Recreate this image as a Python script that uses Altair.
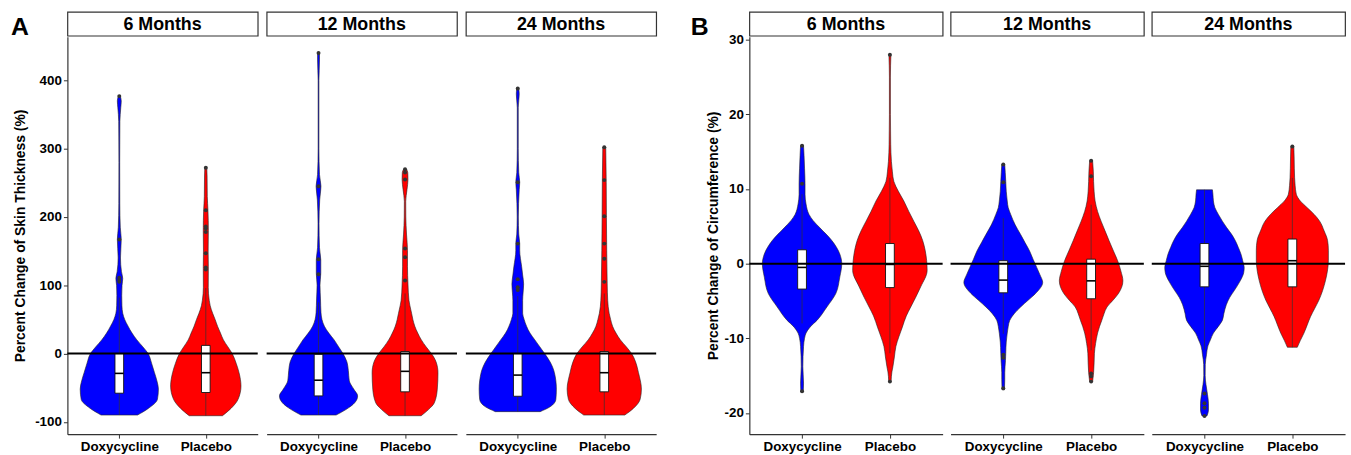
import altair as alt
import pandas as pd

FONT = "Liberation Sans"
MONTHS = ["6 Months", "12 Months", "24 Months"]
GROUPS = ["Doxycycline", "Placebo"]
COLORS = ["#0000FF", "#FF0000"]
ZERO_REF = 0

# ---------------- Panel A : skin thickness ----------------
A_LABEL = "A"
A_Y_TITLE = "Percent Change of Skin Thickness (%)"
A_Y_DOMAIN = [-118, 464]
A_Y_TICKS = [-100, 0, 100, 200, 300, 400]

# violin outline: value and density (relative half-width)
A6_DOXY_Y = [-90, -80, -67, -52, -40, -28, -14, 0, 10, 20, 30, 40, 50, 59, 70, 85, 100, 110, 120, 140, 167, 185, 220, 280, 340, 360, 370, 377]
A6_DOXY_D = [18.7, 30, 39, 40, 38.5, 36, 33, 29.5, 24, 18, 13, 9, 5.5, 3.5, 2.7, 2.5, 2.8, 3.5, 2.2, 1.2, 2, 1, 0.5, 0.4, 0.6, 1.5, 2, 1]
A6_DOXY_BOX = [-90, -58, -29, 0, 82]  # whisker low, q1, median, q3, whisker high
A6_DOXY_OUT = [105, 108, 111, 167, 377]

A6_PLAC_Y = [-91, -80, -67, -47.5, -28, -14, 0, 10, 20, 30, 40, 50, 59, 70, 78, 97, 127, 150, 180, 210, 230, 260, 272]
A6_PLAC_D = [17, 26, 33, 36, 34, 31, 27, 22.5, 18, 15, 12, 9.5, 7, 4.5, 3.5, 2.5, 2.6, 2.4, 2.6, 2.2, 1.5, 1.3, 1]
A6_PLAC_BOX = [-91, -57, -28, 12, 96]
A6_PLAC_OUT = [123, 126, 147, 178, 183, 186, 210, 272]

A12_DOXY_Y = [-90, -82, -72, -62, -52, -40, -25, -12, 0, 10, 20, 30, 40, 50, 60, 80, 100, 118, 137, 155, 190, 225, 245, 262, 300, 400, 430, 440]
A12_DOXY_D = [18, 28, 37, 40, 36, 31.5, 30.5, 29, 25, 20.5, 16, 10.5, 6, 3.5, 2.5, 2, 1.5, 2.3, 2.3, 1, 0.5, 1.2, 2.5, 1, 0.4, 0.4, 1, 1]
A12_DOXY_BOX = [-90, -62, -39, -1, 75]
A12_DOXY_OUT = [116, 138, 245, 440]

A12_PLAC_Y = [-91, -82, -72, -52, -28, -12, 0, 10, 20, 30, 40, 50, 59, 70, 78, 102, 127, 151, 175, 200, 223, 240, 255, 265, 270]
A12_PLAC_D = [16.5, 24, 30, 33, 33.7, 31.7, 27, 21.5, 16.7, 13, 10, 8, 6.7, 5, 4, 3, 2.5, 2.5, 1.5, 0.8, 0.7, 2, 3, 2.8, 1.5]
A12_PLAC_BOX = [-91, -56, -26, 3, 88]
A12_PLAC_OUT = [107, 141, 154, 255, 265, 270]

A24_DOXY_Y = [-85, -78, -67, -52, -28, -12, 0, 10, 20, 30, 40, 50, 59, 78, 90, 102, 115, 127, 151, 161, 175, 200, 240, 251, 265, 300, 360, 380, 388]
A24_DOXY_D = [23, 33, 39, 39.5, 37.5, 33, 27.5, 22.5, 17.5, 12.5, 9, 6.5, 5, 5, 5.5, 6, 5, 4, 2, 2, 1, 0.6, 1.5, 2, 1, 0.5, 0.5, 1.5, 1]
A24_DOXY_BOX = [-85, -62.5, -31.5, 0, 84]
A24_DOXY_OUT = [93, 97, 109, 161, 251, 388]

A24_PLAC_Y = [-90, -80, -67, -52, -28, -12, 0, 10, 20, 30, 40, 50, 59, 78, 102, 151, 200, 250, 302]
A24_PLAC_D = [21, 30, 36.7, 38, 35, 32, 28, 22.5, 16.5, 12, 8.5, 6.5, 5, 3.5, 3, 2.5, 2.2, 2, 1.5]
A24_PLAC_BOX = [-90, -56, -28, 3, 88]
A24_PLAC_OUT = [105, 139, 161, 201, 254, 302]

# ---------------- Panel B : circumference ----------------
B_LABEL = "B"
B_Y_TITLE = "Percent Change of Circumference (%)"
B_Y_DOMAIN = [-22.84, 30.41]
B_Y_TICKS = [-20, -10, 0, 10, 20, 30]

B6_DOXY_Y = [-17.2, -16, -13.8, -11.1, -10, -9.3, -8.5, -7.6, -5.8, -4, -1.8, 0, 1.3, 3.1, 4.8, 5.8, 6.6, 8, 9.3, 10.7, 12.8, 14.5, 15.8]
B6_DOXY_D = [1.2, 1.5, 0.8, 1.5, 2.5, 4, 8, 15, 25, 34, 38, 40, 38, 30, 18, 11, 7, 4, 3, 3, 2.5, 2, 1.5]
B6_DOXY_BOX = [-8.0, -3.4, -0.5, 1.86, 9.3]
B6_DOXY_OUT = [10.7, 15.8, -17.1]

B6_PLAC_Y = [-15.8, -14.5, -13.8, -12.5, -11.1, -9.8, -8.5, -7, -5.8, -4.5, -3.1, -0.9, 0.4, 1.8, 3.1, 4.4, 5.7, 7, 8.4, 9.7, 11, 12.3, 13.7, 16, 20, 25, 28]
B6_PLAC_D = [1.2, 2, 3, 4.5, 6, 9, 12.5, 16.5, 21, 26, 31, 37.5, 37, 35.5, 33, 29, 24, 19, 14, 8.5, 4, 2.5, 1.5, 0.8, 0.5, 0.5, 1]
B6_PLAC_BOX = [-12.0, -3.2, -0.1, 2.7, 11.5]
B6_PLAC_OUT = [28.0, -15.8]

B12_DOXY_Y = [-16.9, -15.5, -14.6, -13, -12, -10.5, -9.3, -8.4, -7.6, -6.7, -5.8, -4.9, -4, -2.5, -1.5, -0.5, 0.6, 1.7, 2.8, 3.9, 5.2, 6.6, 7.5, 8.4, 9.7, 11, 12.2, 13.3]
B12_DOXY_D = [1.2, 1.5, 1.5, 2.2, 2.5, 3, 4, 5, 6.5, 11, 17.5, 25, 32.5, 39.7, 37, 33.7, 30, 26.5, 22, 17.5, 12, 7.5, 5, 4, 3, 2.5, 2, 1.5]
B12_DOXY_BOX = [-9.4, -3.9, -2.2, 0.4, 6.1]
B12_DOXY_OUT = [13.3, 10.9, -12.2, -12.6, -16.7]

B12_PLAC_Y = [-15.8, -14.6, -13.3, -12, -10.7, -9.3, -8.4, -7.6, -6.7, -5.8, -4.9, -4, -2.3, -1, 0.4, 1.7, 3.1, 4.4, 5.7, 7, 8.4, 9.7, 11, 12.4, 13.8]
B12_PLAC_D = [1.5, 2.5, 3, 3.3, 4.5, 6.5, 8.5, 10.7, 13, 16, 22, 27.5, 32, 30, 26.7, 22.5, 18, 14, 10, 6.5, 4, 3, 2.5, 2.2, 1.5]
B12_PLAC_BOX = [-11.6, -4.7, -2.3, 0.6, 7.9]
B12_PLAC_OUT = [13.8, 11.7, -14.7, -15.1, -15.8]

B24_DOXY_Y = [-20.4, -19.6, -18.7, -17.5, -16.2, -15, -13.5, -12.2, -11, -10.2, -9.3, -8.4, -7.6, -6.7, -5.5, -4.5, -3.6, -2.3, -1.2, -0.5, 0.4, 1.3, 2.2, 3.1, 4, 4.8, 5.7, 6.6, 7.5, 8.4, 9.3, 9.9]
B24_DOXY_D = [2.5, 4, 4, 3, 1.5, 0.7, 0.8, 2, 3.5, 6, 9, 14, 18, 19.5, 22, 25.5, 30, 36, 39.5, 40, 38.5, 36.7, 34, 31, 27, 22.5, 18, 14, 10.5, 9, 8.5, 8]
B24_DOXY_BOX = [-11.5, -3.1, -0.35, 2.7, 9.9]
B24_DOXY_OUT = [-17.4, -18.7, -19.3, -20.4]

B24_PLAC_Y = [-11.2, -10.3, -9.3, -8.2, -7.1, -6, -4.9, -3.6, -2.3, -1, 0.4, 1.8, 3.1, 4.4, 5.7, 6.6, 7.5, 8.4, 9.3, 10.5, 11.5, 12.8, 14.3, 15.7]
B24_PLAC_D = [5, 8, 11.7, 15, 18.3, 22.5, 26.7, 30.5, 33.3, 35.3, 36.3, 36.3, 35.5, 32, 27.5, 22, 15, 8, 4, 2.8, 2.3, 2, 1.8, 1.5]
B24_PLAC_BOX = [-11.2, -3.1, 0.4, 3.3, 11.5]
B24_PLAC_OUT = [15.7]

A_SETS = [
    [(A6_DOXY_Y, A6_DOXY_D, A6_DOXY_BOX, A6_DOXY_OUT), (A6_PLAC_Y, A6_PLAC_D, A6_PLAC_BOX, A6_PLAC_OUT)],
    [(A12_DOXY_Y, A12_DOXY_D, A12_DOXY_BOX, A12_DOXY_OUT), (A12_PLAC_Y, A12_PLAC_D, A12_PLAC_BOX, A12_PLAC_OUT)],
    [(A24_DOXY_Y, A24_DOXY_D, A24_DOXY_BOX, A24_DOXY_OUT), (A24_PLAC_Y, A24_PLAC_D, A24_PLAC_BOX, A24_PLAC_OUT)],
]
B_SETS = [
    [(B6_DOXY_Y, B6_DOXY_D, B6_DOXY_BOX, B6_DOXY_OUT), (B6_PLAC_Y, B6_PLAC_D, B6_PLAC_BOX, B6_PLAC_OUT)],
    [(B12_DOXY_Y, B12_DOXY_D, B12_DOXY_BOX, B12_DOXY_OUT), (B12_PLAC_Y, B12_PLAC_D, B12_PLAC_BOX, B12_PLAC_OUT)],
    [(B24_DOXY_Y, B24_DOXY_D, B24_DOXY_BOX, B24_DOXY_OUT), (B24_PLAC_Y, B24_PLAC_D, B24_PLAC_BOX, B24_PLAC_OUT)],
]

DENSITY_TO_WIDTH = 0.452 / 40.0   # violin half-width (category units) per density unit
BOX_HALF = 0.05
PLOT_H = 401
STRIP_H = 24
LABEL_SIZE = 25


def facet_column(sets, mi, ydom, yticks, ytitle, title_pad, first, width, panel_label, label_dx):
    vrows, brows, orows = [], [], []
    for gi, (ys, ds, box, outs) in enumerate(sets[mi]):
        pos = gi + 1
        g = GROUPS[gi]
        for v, d in zip(ys, ds):
            vrows.append({"group": g, "value": v,
                          "lo": pos - d * DENSITY_TO_WIDTH, "hi": pos + d * DENSITY_TO_WIDTH})
        brows.append({"group": g, "pos": pos, "blo": pos - BOX_HALF, "bhi": pos + BOX_HALF,
                      "wlo": box[0], "q1": box[1], "med": box[2], "q3": box[3], "whi": box[4]})
        for o in outs:
            orows.append({"group": g, "pos": pos, "value": o})
    vdf = pd.DataFrame(vrows)
    bdf = pd.DataFrame(brows)
    odf = pd.DataFrame(orows)

    xs = alt.Scale(domain=[0.4, 2.6], nice=False, zero=False)
    ysc = alt.Scale(domain=ydom, nice=False, zero=False)
    xaxis = alt.Axis(values=[1, 2],
                     labelExpr="datum.value == 1 ? '%s' : '%s'" % (GROUPS[0], GROUPS[1]),
                     title=None, grid=False, tickSize=4, tickColor="#333", tickWidth=1,
                     domainColor="#333", domainWidth=1.2, labelFont=FONT, labelFontSize=13.5,
                     labelFontWeight="bold", labelColor="black", labelPadding=1)
    if first:
        yaxis = alt.Axis(values=yticks, title=ytitle, grid=False, tickSize=4, tickColor="#333",
                         tickWidth=1, domainColor="#333", domainWidth=1.2, labelFont=FONT,
                         labelExpr="'' + datum.value",
                         labelFontSize=13.5, labelFontWeight="bold", labelColor="black",
                         labelPadding=2, titleFont=FONT, titleFontSize=14, titleFontWeight="bold",
                         titleColor="black", titlePadding=title_pad)
    else:
        yaxis = None

    violin = alt.Chart(vdf).mark_area(orient="horizontal", interpolate="monotone", stroke="#222",
                                      strokeWidth=0.6, opacity=1).encode(
        y=alt.Y("value:Q", scale=ysc, axis=yaxis),
        x=alt.X("lo:Q", scale=xs, axis=xaxis),
        x2="hi:Q",
        color=alt.Color("group:N", scale=alt.Scale(domain=GROUPS, range=COLORS), legend=None),
    )
    whisker = alt.Chart(bdf).mark_rule(color="#333", strokeWidth=0.7).encode(
        x=alt.X("pos:Q", scale=xs, axis=xaxis),
        y=alt.Y("wlo:Q", scale=ysc, axis=yaxis),
        y2="whi:Q",
    )
    box = alt.Chart(bdf).mark_rect(fill="white", stroke="#111", strokeWidth=0.9).encode(
        x=alt.X("blo:Q", scale=xs, axis=xaxis), x2="bhi:Q",
        y=alt.Y("q1:Q", scale=ysc, axis=yaxis), y2="q3:Q",
    )
    median = alt.Chart(bdf).mark_rule(color="black", strokeWidth=1.6).encode(
        x=alt.X("blo:Q", scale=xs, axis=xaxis), x2="bhi:Q",
        y=alt.Y("med:Q", scale=ysc, axis=yaxis),
    )
    zero = alt.Chart(pd.DataFrame({"ref": [ZERO_REF]})).mark_rule(color="black", strokeWidth=2).encode(
        y=alt.Y("ref:Q", scale=ysc, axis=yaxis),
    )
    outl = alt.Chart(odf).mark_circle(size=16, color="#333", opacity=1).encode(
        x=alt.X("pos:Q", scale=xs, axis=xaxis),
        y=alt.Y("value:Q", scale=ysc, axis=yaxis),
    )
    plot = alt.layer(violin, whisker, box, median, zero, outl).properties(width=width, height=PLOT_H)

    strip_text = alt.Chart(pd.DataFrame({"label": [MONTHS[mi]]})).mark_text(
        font=FONT, fontSize=18, fontWeight="bold", color="black", baseline="middle", dy=1
    ).encode(text="label:N")
    if first:
        lab = alt.Chart(pd.DataFrame({"panel": [panel_label]})).mark_text(
            font=FONT, fontSize=LABEL_SIZE, fontWeight="bold", color="black", align="left",
            baseline="alphabetic"
        ).encode(text="panel:N", x=alt.value(label_dx), y=alt.value(23))
        strip = alt.layer(strip_text, lab)
    else:
        strip = strip_text
    strip = strip.properties(width=width, height=STRIP_H,
                             view=alt.ViewBackground(stroke="#333", strokeWidth=1.2, fill="white"))
    # 'flush' stacks strip and plot by their nominal sizes, so the panel letter
    # cannot push the plot down
    return alt.vconcat(strip, plot, spacing=1, bounds="flush")


panel_a = alt.hconcat(
    *[facet_column(A_SETS, mi, A_Y_DOMAIN, A_Y_TICKS, A_Y_TITLE, 7, mi == 0, 192, A_LABEL, -57)
      for mi in range(3)],
    spacing=7,
)
panel_b = alt.hconcat(
    *[facet_column(B_SETS, mi, B_Y_DOMAIN, B_Y_TICKS, B_Y_TITLE, 4, mi == 0, 195, B_LABEL, -59)
      for mi in range(3)],
    spacing=6,
)

chart = alt.hconcat(panel_a, panel_b, spacing=33).properties(
    padding={"left": 10, "top": 9, "right": 5, "bottom": 0},
    background="white",
).configure_view(strokeWidth=0)

chart.save("out.html", embed_options={"renderer": "svg", "actions": False})
